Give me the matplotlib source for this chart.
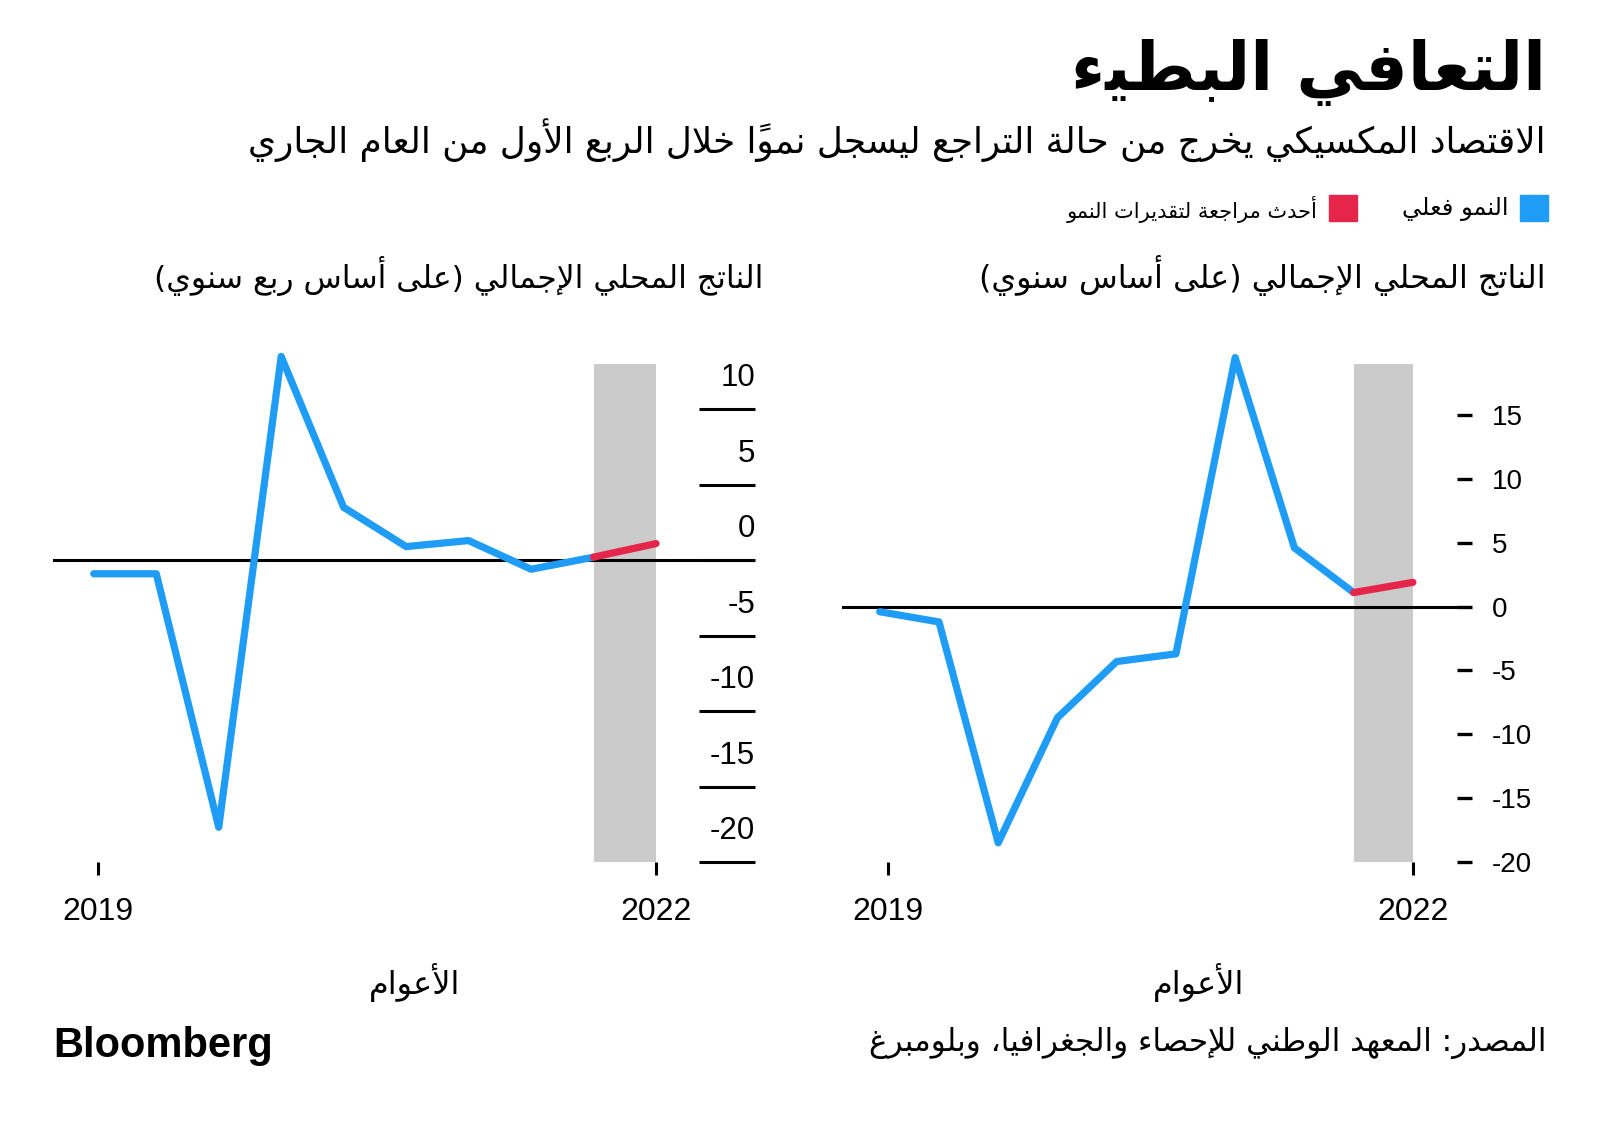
import matplotlib
matplotlib.use("Agg")
import matplotlib.pyplot as plt
from matplotlib.transforms import offset_copy

# ---------------- data ----------------
periods = list(range(10))
qoq_growth = [-0.9, -0.9, -17.7, 13.5, 3.5, 0.9, 1.3, -0.6, 0.2, 1.1]
yoy_growth = [-0.4, -1.2, -18.5, -8.7, -4.3, -3.7, 19.5, 4.6, 1.1, 1.9]
revision_start = 8  # index where the latest revision segment begins
qoq_ticks = [10, 5, 0, -5, -10, -15, -20]
yoy_ticks = [15, 10, 5, 0, -5, -10, -15, -20]
year_labels = ["2019", "2022"]
qoq_year_pos = [0.065, 9]
yoy_year_pos = [0.14, 9]

title = "التعافي البطيء"
subtitle = "الاقتصاد المكسيكي يخرج من حالة التراجع ليسجل نمواً خلال الربع الأول من العام الجاري"
legend_actual = "النمو فعلي"
legend_revision = "أحدث مراجعة لتقديرات النمو"
qoq_title = "الناتج المحلي الإجمالي (على أساس ربع سنوي)"
yoy_title = "الناتج المحلي الإجمالي (على أساس سنوي)"
x_label = "الأعوام"
source = "المصدر: المعهد الوطني للإحصاء والجغرافيا، وبلومبرغ"

BLUE = "#1e9cf6"
RED = "#e6254a"
GRAY = "#cbcbcb"

# ---------------- minimal Arabic shaping (presentation forms + RTL order) -------------
FORMS = {
    "\u0621": ("\uFE80", None, None, None),
    "\u0622": ("\uFE81", "\uFE82", None, None),
    "\u0623": ("\uFE83", "\uFE84", None, None),
    "\u0624": ("\uFE85", "\uFE86", None, None),
    "\u0625": ("\uFE87", "\uFE88", None, None),
    "\u0626": ("\uFE89", "\uFE8A", "\uFE8B", "\uFE8C"),
    "\u0627": ("\uFE8D", "\uFE8E", None, None),
    "\u0628": ("\uFE8F", "\uFE90", "\uFE91", "\uFE92"),
    "\u0629": ("\uFE93", "\uFE94", None, None),
    "\u062A": ("\uFE95", "\uFE96", "\uFE97", "\uFE98"),
    "\u062B": ("\uFE99", "\uFE9A", "\uFE9B", "\uFE9C"),
    "\u062C": ("\uFE9D", "\uFE9E", "\uFE9F", "\uFEA0"),
    "\u062D": ("\uFEA1", "\uFEA2", "\uFEA3", "\uFEA4"),
    "\u062E": ("\uFEA5", "\uFEA6", "\uFEA7", "\uFEA8"),
    "\u062F": ("\uFEA9", "\uFEAA", None, None),
    "\u0630": ("\uFEAB", "\uFEAC", None, None),
    "\u0631": ("\uFEAD", "\uFEAE", None, None),
    "\u0632": ("\uFEAF", "\uFEB0", None, None),
    "\u0633": ("\uFEB1", "\uFEB2", "\uFEB3", "\uFEB4"),
    "\u0634": ("\uFEB5", "\uFEB6", "\uFEB7", "\uFEB8"),
    "\u0635": ("\uFEB9", "\uFEBA", "\uFEBB", "\uFEBC"),
    "\u0636": ("\uFEBD", "\uFEBE", "\uFEBF", "\uFEC0"),
    "\u0637": ("\uFEC1", "\uFEC2", "\uFEC3", "\uFEC4"),
    "\u0638": ("\uFEC5", "\uFEC6", "\uFEC7", "\uFEC8"),
    "\u0639": ("\uFEC9", "\uFECA", "\uFECB", "\uFECC"),
    "\u063A": ("\uFECD", "\uFECE", "\uFECF", "\uFED0"),
    "\u0641": ("\uFED1", "\uFED2", "\uFED3", "\uFED4"),
    "\u0642": ("\uFED5", "\uFED6", "\uFED7", "\uFED8"),
    "\u0643": ("\uFED9", "\uFEDA", "\uFEDB", "\uFEDC"),
    "\u0644": ("\uFEDD", "\uFEDE", "\uFEDF", "\uFEE0"),
    "\u0645": ("\uFEE1", "\uFEE2", "\uFEE3", "\uFEE4"),
    "\u0646": ("\uFEE5", "\uFEE6", "\uFEE7", "\uFEE8"),
    "\u0647": ("\uFEE9", "\uFEEA", "\uFEEB", "\uFEEC"),
    "\u0648": ("\uFEED", "\uFEEE", None, None),
    "\u0649": ("\uFEEF", "\uFEF0", None, None),
    "\u064A": ("\uFEF1", "\uFEF2", "\uFEF3", "\uFEF4"),
}
LAM_ALEF = {"\u0622": ("\uFEF5", "\uFEF6"), "\u0623": ("\uFEF7", "\uFEF8"),
            "\u0625": ("\uFEF9", "\uFEFA"), "\u0627": ("\uFEFB", "\uFEFC")}
MARKS = set(chr(c) for c in range(0x064B, 0x0653))
MIRROR = {"(": ")", ")": "("}


def _dual(c):
    return c in FORMS and FORMS[c][2] is not None


def shape(text):
    chars = list(text)
    n = len(chars)

    def nb(i, step):
        j = i + step
        while 0 <= j < n and chars[j] in MARKS:
            j += step
        return chars[j] if 0 <= j < n else None

    clusters = []
    i = 0
    while i < n:
        c = chars[i]
        if c in FORMS:
            prev = nb(i, -1)
            jp = prev is not None and _dual(prev)
            if c == "\u0644":
                j = i + 1
                if j < n and chars[j] in LAM_ALEF:
                    g = LAM_ALEF[chars[j]][1 if jp else 0]
                    clusters.append([g])
                    i = j + 1
                    continue
            nxt = nb(i, 1)
            jn = _dual(c) and nxt is not None and nxt in FORMS
            iso, fin, ini, med = FORMS[c]
            if jp and jn:
                g = med
            elif jp:
                g = fin or iso
            elif jn:
                g = ini
            else:
                g = iso
            clusters.append([g])
        elif c in MARKS and clusters:
            clusters[-1].append(c)
        else:
            clusters.append([MIRROR.get(c, c)])
        i += 1
    return "".join("".join(cl) for cl in reversed(clusters))


# ---------------- figure ----------------
W, H = 1600, 1126
fig = plt.figure(figsize=(W / 100, H / 100), dpi=100)
fig.patch.set_facecolor("white")
AR = ["DejaVu Sans"]
NUM = ["Liberation Sans", "DejaVu Sans"]
renderer = fig.canvas.get_renderer()


def put(x, y, s, width=None, fs=20, ha="right", va="center", weight="normal",
        family=AR, color="black"):
    t = fig.text(x / W, 1 - y / H, s, fontsize=fs, ha=ha, va=va,
                 fontweight=weight, family=family, color=color)
    if width is not None:
        w = t.get_window_extent(renderer).width
        t.set_fontsize(fs * width / w)
    return t


put(1546, 72, shape(title), width=475, fs=40, weight="bold")
put(1546, 140, shape(subtitle), width=1305, fs=24)
put(1508, 209, shape(legend_actual), width=108, fs=14)
put(1318, 209, shape(legend_revision), width=254, fs=14)
fig.patches.append(plt.Rectangle((1520 / W, 1 - 221 / H), 28 / W, 26 / H,
                                 transform=fig.transFigure, color=BLUE))
fig.patches.append(plt.Rectangle((1329 / W, 1 - 221 / H), 28 / W, 26 / H,
                                 transform=fig.transFigure, color=RED))
put(763, 276, shape(qoq_title), width=608, fs=20)
put(1546, 276, shape(yoy_title), width=564, fs=20)
put(415, 983, shape(x_label), width=92, fs=18, ha="center")
put(1199, 983, shape(x_label), width=92, fs=18, ha="center")
put(1546, 1043, shape(source), width=677, fs=18)
put(53, 1046, "Bloomberg", width=220, fs=28, ha="left", weight="bold",
    family=["Liberation Sans", "DejaVu Sans"])

ax_top, ax_bot = 364, 862
axL = fig.add_axes([53 / W, 1 - ax_bot / H, 702 / W, (ax_bot - ax_top) / H])
axR = fig.add_axes([842 / W, 1 - ax_bot / H, 630 / W, (ax_bot - ax_top) / H])


def draw(ax, values, xlim, ylim):
    ax.set_xlim(*xlim)
    ax.set_ylim(*ylim)
    for s in ax.spines.values():
        s.set_visible(False)
    ax.axvspan(periods[revision_start], periods[-1], color=GRAY, lw=0, zorder=0)
    ax.axhline(0, color="black", lw=2.2, zorder=1)
    ax.plot(periods[:revision_start + 1], values[:revision_start + 1], color=BLUE,
            lw=5.2, solid_capstyle="round", solid_joinstyle="round", zorder=3,
            clip_on=False)
    ax.plot(periods[revision_start:], values[revision_start:], color=RED,
            lw=5.2, solid_capstyle="round", solid_joinstyle="round", zorder=4,
            clip_on=False)


draw(axL, qoq_growth, (-0.653, 10.585), (-20, 13))
draw(axR, yoy_growth, (-0.637, 9.998), (-20, 19))

for ax, pos in ((axL, qoq_year_pos), (axR, yoy_year_pos)):
    ax.set_xticks(pos)
    ax.set_xticklabels(year_labels, family=NUM, fontsize=23)
    ax.tick_params(axis="x", direction="out", length=9, width=2.2, pad=16,
                   color="black")

# left: long tick lines on the right edge, labels above them
axL.set_yticks(qoq_ticks)
axL.tick_params(axis="y", left=False, right=True, labelleft=False,
                labelright=False, direction="in", length=40, width=2.2)
trans = offset_copy(axL.get_yaxis_transform(), fig=fig, x=0, y=31, units="dots")
for v in qoq_ticks:
    axL.text(1.0, v, str(v), transform=trans, ha="right", va="center",
             family=NUM, fontsize=22.5)

# right: short dashes, labels to the right
axR.set_yticks(yoy_ticks)
axR.set_yticklabels([str(v) for v in yoy_ticks], family=NUM, fontsize=20)
axR.tick_params(axis="y", left=False, right=True, labelleft=False,
                labelright=True, direction="in", length=11, width=2.4, pad=14)

fig.savefig("out.png", dpi=100, facecolor="white")
